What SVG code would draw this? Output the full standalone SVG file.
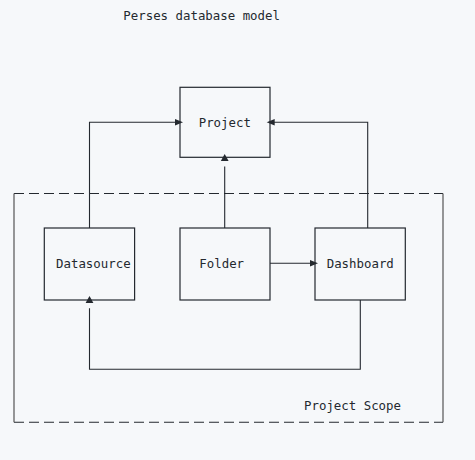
<svg xmlns="http://www.w3.org/2000/svg" width="475" height="460" viewBox="0 0 475 460">
<defs>
<style>
text{font-family:"DejaVu Sans Mono","Liberation Mono",monospace;font-size:12.4px;fill:#24292f}
.box{fill:none;stroke:#24292f;stroke-width:1.2}
.ln{fill:none;stroke:#24292f;stroke-width:1.1}
.dash{fill:none;stroke:#24292f;stroke-width:1.1;stroke-dasharray:10,5}
.side{fill:none;stroke:#555;stroke-width:1.2}
.ah{fill:#24292f}
</style>
</defs>
<rect width="475" height="460" fill="#f6f8fa"/>
<text x="123.3" y="20">Perses database model</text>
<g id="scope">
<path class="dash" d="M14,193.5 H443"/>
<path class="dash" d="M14,422.3 H443"/>
<path class="side" d="M14,193.5 V422.3 M443,193.5 V422.3"/>
<text x="304" y="409.5">Project Scope</text>
</g>
<g id="project">
<rect class="box" x="180" y="87.3" width="90" height="70"/>
<text x="198.7" y="126.5">Project</text>
</g>
<g id="datasource">
<rect class="box" x="44.3" y="228" width="90.3" height="72"/>
<text x="56" y="267.7">Datasource</text>
</g>
<g id="folder">
<rect class="box" x="180" y="228" width="90" height="72"/>
<text x="199.3" y="267.7">Folder</text>
</g>
<g id="dashboard">
<rect class="box" x="315" y="228" width="90.3" height="72"/>
<text x="326.7" y="267.7">Dashboard</text>
</g>
<g id="connectors">
<path class="ln" d="M89.5,228 V122.3 H176"/>
<polygon class="ah" points="183,122.3 175,119 175,125.6"/>
<path class="ln" d="M367.7,228 V122.3 H274"/>
<polygon class="ah" points="266.7,122.3 274.7,119 274.7,125.6"/>
<path class="ln" d="M224.7,228 V166.5"/>
<polygon class="ah" points="224.7,154 220.8,161 228.6,161"/>
<path class="ln" d="M270,263.3 H311"/>
<polygon class="ah" points="318,263.3 310,260 310,266.6"/>
<path class="ln" d="M360.3,300 V369.3 H89.5 V308.3"/>
<polygon class="ah" points="89.5,296 85.6,303 93.4,303"/>
</g>
</svg>
